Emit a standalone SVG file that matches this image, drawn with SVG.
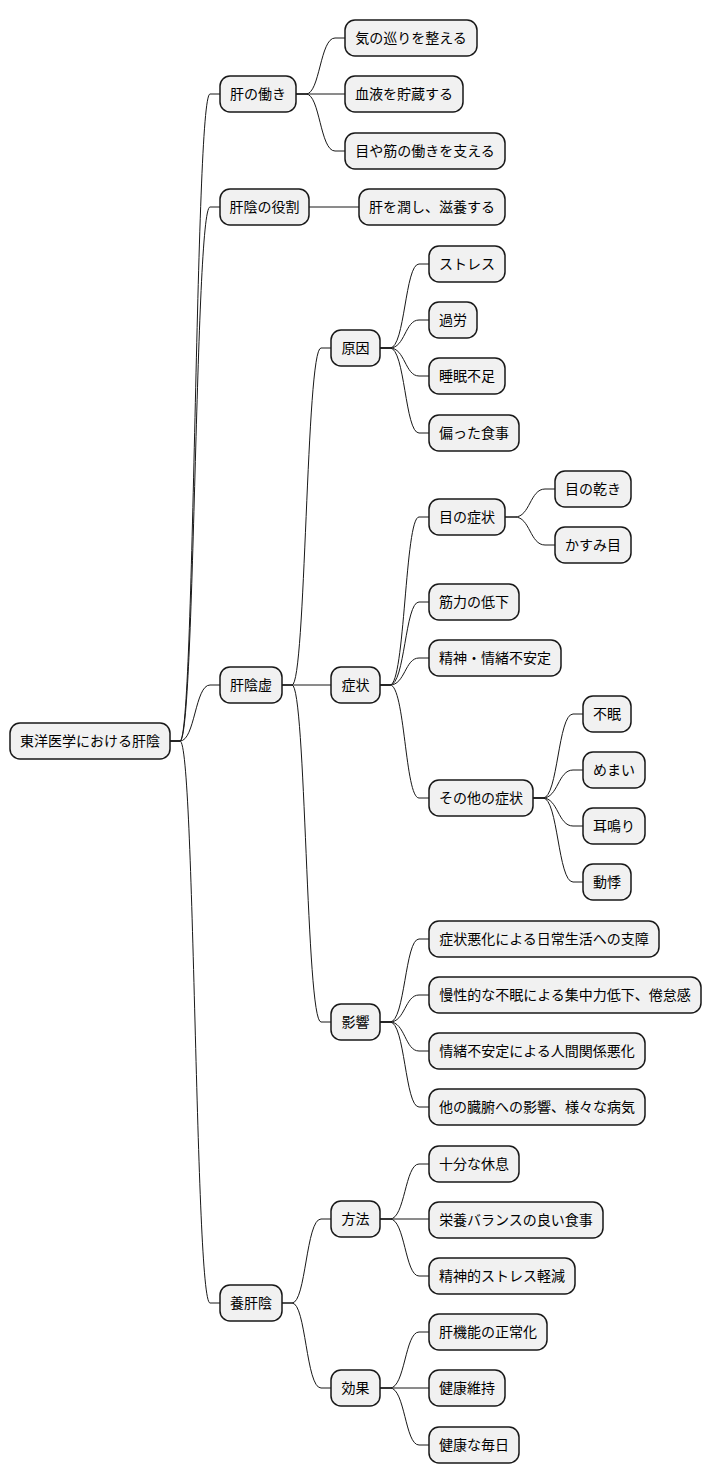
<svg xmlns="http://www.w3.org/2000/svg" width="712" height="1484" viewBox="0 0 712 1484">
<style>
rect{fill:#F1F1F1;stroke:#181818;stroke-width:1.5}
text{font-family:"Noto Sans CJK JP","Liberation Sans",sans-serif;font-size:14px;fill:#000;text-anchor:middle}
#edges path{fill:none;stroke:#181818;stroke-width:1}
</style>
<rect x="0" y="0" width="712" height="1484" style="fill:#fff;stroke:none"/>
<g id="edges">
<path d="M170 741 L180 741 C195 741 195 94 210 94 L220 94"/>
<path d="M170 741 L180 741 C195 741 195 207 210 207 L220 207"/>
<path d="M170 741 L180 741 C195 741 195 685 210 685 L220 685"/>
<path d="M170 741 L180 741 C195 741 195 1303 210 1303 L220 1303"/>
<path d="M296 94 L306 94 C320 94 320 38 335 38 L345 38"/>
<path d="M296 94 L345 94"/>
<path d="M296 94 L306 94 C320 94 320 151 335 151 L345 151"/>
<path d="M309 207 L359 207"/>
<path d="M282 685 L292 685 C306 685 306 348 321 348 L331 348"/>
<path d="M282 685 L331 685"/>
<path d="M282 685 L292 685 C306 685 306 1022 321 1022 L331 1022"/>
<path d="M282 1303 L292 1303 C306 1303 306 1219 321 1219 L331 1219"/>
<path d="M282 1303 L292 1303 C306 1303 306 1388 321 1388 L331 1388"/>
<path d="M380 348 L390 348 C405 348 405 264 419 264 L429 264"/>
<path d="M380 348 L390 348 C405 348 405 320 419 320 L429 320"/>
<path d="M380 348 L390 348 C405 348 405 376 419 376 L429 376"/>
<path d="M380 348 L390 348 C405 348 405 433 419 433 L429 433"/>
<path d="M380 685 L390 685 C405 685 405 517 419 517 L429 517"/>
<path d="M380 685 L390 685 C405 685 405 602 419 602 L429 602"/>
<path d="M380 685 L390 685 C405 685 405 658 419 658 L429 658"/>
<path d="M380 685 L390 685 C405 685 405 798 419 798 L429 798"/>
<path d="M505 517 L515 517 C530 517 530 489 545 489 L555 489"/>
<path d="M505 517 L515 517 C530 517 530 545 545 545 L555 545"/>
<path d="M533 798 L543 798 C558 798 558 714 573 714 L583 714"/>
<path d="M533 798 L543 798 C558 798 558 770 573 770 L583 770"/>
<path d="M533 798 L543 798 C558 798 558 826 573 826 L583 826"/>
<path d="M533 798 L543 798 C558 798 558 882 573 882 L583 882"/>
<path d="M380 1022 L390 1022 C405 1022 405 939 419 939 L429 939"/>
<path d="M380 1022 L390 1022 C405 1022 405 995 419 995 L429 995"/>
<path d="M380 1022 L390 1022 C405 1022 405 1051 419 1051 L429 1051"/>
<path d="M380 1022 L390 1022 C405 1022 405 1107 419 1107 L429 1107"/>
<path d="M380 1219 L390 1219 C405 1219 405 1164 419 1164 L429 1164"/>
<path d="M380 1219 L429 1219"/>
<path d="M380 1219 L390 1219 C405 1219 405 1276 419 1276 L429 1276"/>
<path d="M380 1388 L390 1388 C405 1388 405 1332 419 1332 L429 1332"/>
<path d="M380 1388 L429 1388"/>
<path d="M380 1388 L390 1388 C405 1388 405 1445 419 1445 L429 1445"/>
</g>
<g id="root"><rect x="10" y="723" width="160" height="36" rx="10"/><text x="90" y="746">東洋医学における肝陰</text></g>
<g id="n1"><rect x="220" y="76" width="76" height="36" rx="10"/><text x="258" y="99">肝の働き</text></g>
<g id="n2"><rect x="220" y="189" width="89" height="36" rx="10"/><text x="264.5" y="212">肝陰の役割</text></g>
<g id="n3"><rect x="220" y="667" width="62" height="36" rx="10"/><text x="251" y="690">肝陰虚</text></g>
<g id="n4"><rect x="220" y="1285" width="62" height="36" rx="10"/><text x="251" y="1308">養肝陰</text></g>
<g id="n1a"><rect x="345" y="20" width="132" height="36" rx="10"/><text x="411" y="43">気の巡りを整える</text></g>
<g id="n1b"><rect x="345" y="76" width="118" height="36" rx="10"/><text x="404" y="99">血液を貯蔵する</text></g>
<g id="n1c"><rect x="345" y="133" width="160" height="36" rx="10"/><text x="425" y="156">目や筋の働きを支える</text></g>
<g id="n2a"><rect x="359" y="189" width="146" height="36" rx="10"/><text x="432" y="212">肝を潤し、滋養する</text></g>
<g id="c1"><rect x="331" y="330" width="49" height="36" rx="10"/><text x="355.5" y="353">原因</text></g>
<g id="c2"><rect x="331" y="667" width="49" height="36" rx="10"/><text x="355.5" y="690">症状</text></g>
<g id="c3"><rect x="331" y="1004" width="49" height="36" rx="10"/><text x="355.5" y="1027">影響</text></g>
<g id="c4"><rect x="331" y="1201" width="49" height="36" rx="10"/><text x="355.5" y="1224">方法</text></g>
<g id="c5"><rect x="331" y="1370" width="49" height="36" rx="10"/><text x="355.5" y="1393">効果</text></g>
<g id="g1"><rect x="429" y="246" width="76" height="36" rx="10"/><text x="467" y="269">ストレス</text></g>
<g id="g2"><rect x="429" y="302" width="48" height="36" rx="10"/><text x="453" y="325">過労</text></g>
<g id="g3"><rect x="429" y="358" width="76" height="36" rx="10"/><text x="467" y="381">睡眠不足</text></g>
<g id="g4"><rect x="429" y="415" width="90" height="36" rx="10"/><text x="474" y="438">偏った食事</text></g>
<g id="s1"><rect x="429" y="499" width="76" height="36" rx="10"/><text x="467" y="522">目の症状</text></g>
<g id="s2"><rect x="429" y="584" width="90" height="36" rx="10"/><text x="474" y="607">筋力の低下</text></g>
<g id="s3"><rect x="429" y="640" width="132" height="36" rx="10"/><text x="495" y="663">精神・情緒不安定</text></g>
<g id="s4"><rect x="429" y="780" width="104" height="36" rx="10"/><text x="481" y="803">その他の症状</text></g>
<g id="e1"><rect x="555" y="471" width="76" height="36" rx="10"/><text x="593" y="494">目の乾き</text></g>
<g id="e2"><rect x="555" y="527" width="76" height="36" rx="10"/><text x="593" y="550">かすみ目</text></g>
<g id="o1"><rect x="583" y="696" width="48" height="36" rx="10"/><text x="607" y="719">不眠</text></g>
<g id="o2"><rect x="583" y="752" width="62" height="36" rx="10"/><text x="614" y="775">めまい</text></g>
<g id="o3"><rect x="583" y="808" width="62" height="36" rx="10"/><text x="614" y="831">耳鳴り</text></g>
<g id="o4"><rect x="583" y="864" width="48" height="36" rx="10"/><text x="607" y="887">動悸</text></g>
<g id="i1"><rect x="429" y="921" width="230" height="36" rx="10"/><text x="544" y="944">症状悪化による日常生活への支障</text></g>
<g id="i2"><rect x="429" y="977" width="272" height="36" rx="10"/><text x="565" y="1000">慢性的な不眠による集中力低下、倦怠感</text></g>
<g id="i3"><rect x="429" y="1033" width="216" height="36" rx="10"/><text x="537" y="1056">情緒不安定による人間関係悪化</text></g>
<g id="i4"><rect x="429" y="1089" width="216" height="36" rx="10"/><text x="537" y="1112">他の臓腑への影響、様々な病気</text></g>
<g id="m1"><rect x="429" y="1146" width="90" height="36" rx="10"/><text x="474" y="1169">十分な休息</text></g>
<g id="m2"><rect x="429" y="1202" width="174" height="36" rx="10"/><text x="516" y="1225">栄養バランスの良い食事</text></g>
<g id="m3"><rect x="429" y="1258" width="146" height="36" rx="10"/><text x="502" y="1281">精神的ストレス軽減</text></g>
<g id="f1"><rect x="429" y="1314" width="118" height="36" rx="10"/><text x="488" y="1337">肝機能の正常化</text></g>
<g id="f2"><rect x="429" y="1370" width="76" height="36" rx="10"/><text x="467" y="1393">健康維持</text></g>
<g id="f3"><rect x="429" y="1427" width="90" height="36" rx="10"/><text x="474" y="1450">健康な毎日</text></g>
</svg>
